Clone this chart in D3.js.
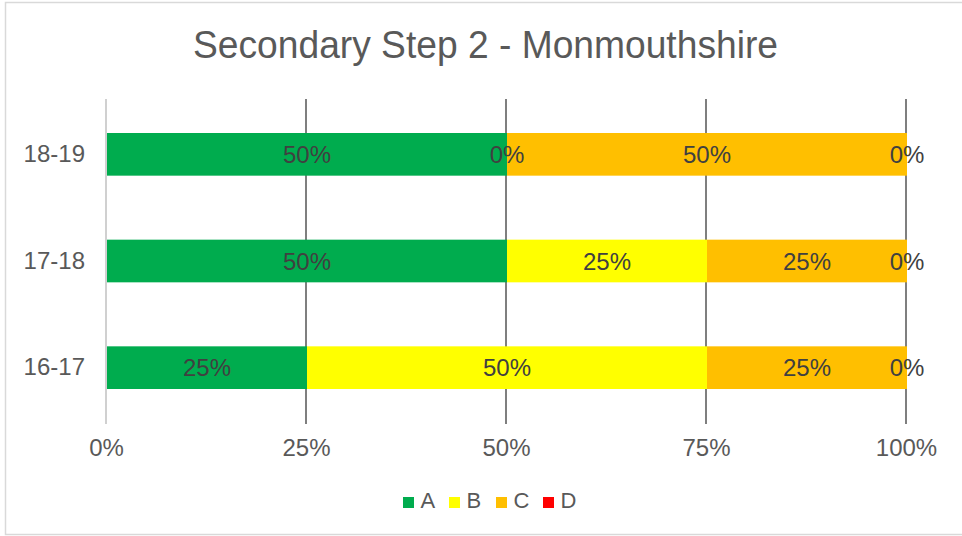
<!DOCTYPE html>
<html><head><meta charset="utf-8">
<script src="https://cdn.jsdelivr.net/npm/d3@7"></script>
<style>html,body{margin:0;padding:0;background:#fff;}svg{display:block;font-family:"Liberation Sans",Arial,sans-serif;}</style>
</head><body>
<svg id="c" width="962" height="536"></svg>
<script>
const title = "Secondary Step 2 - Monmouthshire";
const categories = ["18-19", "17-18", "16-17"];
const seriesNames = ["A", "B", "C", "D"];
const seriesColors = ["#00ac4e", "#ffff00", "#ffbf00", "#ff0000"];
const valuesA = [50, 50, 25];
const valuesB = [0, 25, 50];
const valuesC = [50, 25, 25];
const valuesD = [0, 0, 0];
const xTicks = [0, 25, 50, 75, 100];

const svg = d3.select("#c");
const W = 962, H = 536;
const M = {left: 106, right: 56, top: 100, bottom: 116};
const series = [valuesA, valuesB, valuesC, valuesD];
const rows = categories.map((c, i) => {
  const r = {cat: c};
  seriesNames.forEach((s, j) => r[s] = series[j][i]);
  return r;
});

// outer border
svg.append("path").attr("d", `M${W+2},2.5 H5.5 V534.5 H${W+2}`).attr("fill", "none").attr("stroke", "#d9d9d9").attr("stroke-width", 1.5);

const x = d3.scaleLinear().domain([0, 100]).range([M.left, W - M.right]);
const y = d3.scaleBand().domain(categories).range([M.top + 1, H - M.bottom + 1]).paddingInner(0.6).paddingOuter(0.3);

// title
svg.append("text").attr("x", 485.5).attr("y", 58).attr("text-anchor", "middle")
  .attr("font-size", 38).attr("fill", "#595959").attr("textLength", 585).attr("lengthAdjust", "spacingAndGlyphs").text(title);

// gridlines
const gx = svg.append("g");
gx.selectAll("line").data(xTicks).join("line")
  .attr("x1", d => x(d)).attr("x2", d => x(d))
  .attr("y1", M.top - 1).attr("y2", H - M.bottom + 4)
  .attr("stroke", d => d === 0 ? "#d0d0d0" : "#7f7f7f").attr("stroke-width", 2);

// bars
const stack = d3.stack().keys(seriesNames)(rows);
const layer = svg.append("g").selectAll("g").data(stack).join("g")
  .attr("fill", (d, i) => seriesColors[i]);
layer.selectAll("rect").data(d => d).join("rect")
  .attr("x", d => x(d[0]) + 1).attr("width", d => Math.max(0, x(d[1]) - x(d[0])))
  .attr("y", d => y(d.data.cat)).attr("height", y.bandwidth());

// labels
const lab = svg.append("g").selectAll("g").data(stack).join("g");
lab.selectAll("text").data(d => d.map(p => ({p, key: d.key}))).join("text")
  .attr("x", d => x((d.p[0] + d.p[1]) / 2) + 1)
  .attr("y", d => y(d.p.data.cat) + y.bandwidth() / 2 + 8.5)
  .attr("text-anchor", "middle").attr("font-size", 24).attr("fill", "#404040")
  .text(d => (d.p.data[d.key]) + "%");

// category axis
const yAxis = d3.axisLeft(y).tickSize(0).tickPadding(21);
const ga = svg.append("g").attr("transform", `translate(${M.left},0)`).call(yAxis);
ga.select(".domain").remove();
ga.selectAll("text").attr("font-size", 24).attr("fill", "#595959").attr("font-family", "Liberation Sans, Arial, sans-serif");

// x axis
const xAxis = d3.axisBottom(x).tickValues(xTicks).tickFormat(d => d + "%").tickSize(0).tickPadding(19);
const gxa = svg.append("g").attr("transform", `translate(0,${H - M.bottom})`).call(xAxis);
gxa.select(".domain").remove();
gxa.selectAll("text").attr("font-size", 24).attr("fill", "#595959").attr("font-family", "Liberation Sans, Arial, sans-serif");

// legend
const legX = [403, 449, 496, 543];
const lg = svg.append("g").selectAll("g").data(seriesNames).join("g")
  .attr("transform", (d, i) => `translate(${legX[i]},497)`);
lg.append("rect").attr("x", 0).attr("y", 0).attr("width", 11).attr("height", 11).attr("fill", (d, i) => seriesColors[i]);
lg.append("text").attr("x", 17.5).attr("y", 11).attr("font-size", 22).attr("fill", "#595959").text(d => d);
</script>
</body></html>
